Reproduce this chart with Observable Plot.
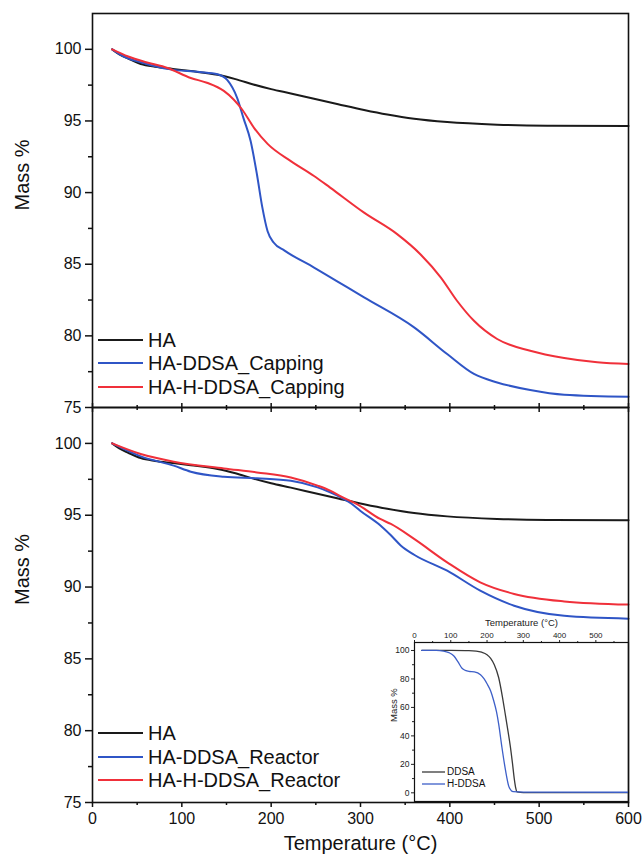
<!DOCTYPE html>
<html><head><meta charset="utf-8">
<script src="https://cdn.jsdelivr.net/npm/d3@7"></script>
<script src="https://cdn.jsdelivr.net/npm/@observablehq/plot@0.6"></script>
<style>
body{margin:0;background:#fff;}
#wrap{position:relative;width:644px;height:860px;overflow:hidden;font-family:"Liberation Sans",Arial,sans-serif;color:#111;}
#wrap svg{position:absolute;}
.leg{position:absolute;white-space:nowrap;}
</style></head><body><div id="wrap"></div>
<script>
// ---------- data ----------
const haT = [22, 30, 40, 54, 70, 90, 110, 140, 160, 180, 200, 222, 248, 275, 304, 330, 360, 397, 453, 509, 600];
const haM = [100, 99.65, 99.35, 98.98, 98.78, 98.63, 98.48, 98.22, 97.92, 97.55, 97.22, 96.92, 96.55, 96.17, 95.77, 95.45, 95.15, 94.92, 94.74, 94.67, 94.65];

const capBlueT = [22, 35, 54, 87, 120, 140, 151, 162, 169, 177, 184, 190, 196, 203, 215, 248, 304, 360, 397, 427, 453, 490, 528, 600];
const capBlueM = [100, 99.5, 99.1, 98.6, 98.42, 98.26, 97.85, 96.6, 95.2, 93.6, 91.3, 89.0, 87.3, 86.5, 85.95, 84.77, 82.68, 80.59, 78.73, 77.34, 76.75, 76.22, 75.89, 75.75];

const capRedT = [22, 40, 60, 84, 110, 128, 147, 158, 167.5, 181, 196, 222, 248, 266, 304, 341, 367, 390, 408, 427, 453, 490, 528, 565, 600];
const capRedM = [100, 99.5, 99.1, 98.7, 98.0, 97.67, 97.1, 96.5, 95.8, 94.5, 93.4, 92.2, 91.16, 90.35, 88.6, 87.1, 85.7, 84.07, 82.45, 81.05, 79.78, 78.96, 78.45, 78.15, 78.03];

const reaBlueT = [22, 54, 91, 110, 147, 184, 222, 252, 266, 278, 290, 300, 322, 334, 345, 360, 397, 434, 472, 528, 600];
const reaBlueM = [100, 99.1, 98.45, 98.03, 97.68, 97.57, 97.4, 96.94, 96.6, 96.25, 95.8, 95.3, 94.3, 93.6, 92.9, 92.25, 91.14, 89.75, 88.7, 88.0, 87.8];

const reaRedT = [22, 54, 91, 147, 184, 222, 252, 266, 278, 296, 322, 334, 360, 397, 434, 472, 528, 600];
const reaRedM = [100, 99.26, 98.73, 98.26, 97.98, 97.63, 97.06, 96.71, 96.31, 95.78, 94.74, 94.39, 93.35, 91.72, 90.33, 89.52, 89.0, 88.78];

const ddsaT = [20, 100, 150, 170, 185, 200, 210, 220, 232, 242, 251, 258, 264, 270, 275, 279, 283, 300, 590];
const ddsaM = [100, 100, 99.9, 99.6, 98.8, 97, 94.5, 90, 81, 68, 54, 43, 33, 21, 10, 3.5, 0.6, 0.2, 0.1];

const hddsaT = [20, 60, 80, 95, 108, 120, 131, 140, 150, 165, 182, 192, 200, 210, 218, 226, 232, 241, 251, 260, 267, 272, 300, 590];
const hddsaM = [100, 100, 99.6, 98.5, 96.3, 92, 87.5, 86, 85.3, 85, 83, 80, 76.6, 71.5, 65, 57, 48.5, 32, 15.7, 4.5, 1.5, 0.8, 0.5, 0.4];

const topNames = ["HA", "HA-DDSA_Capping", "HA-H-DDSA_Capping"];
const botNames = ["HA", "HA-DDSA_Reactor", "HA-H-DDSA_Reactor"];
const insetNames = ["DDSA", "H-DDSA"];
const lineColors = ["#1a1a1a", "#2f55c6", "#f0303a"];
const insetColors = ["#3a3a3a", "#3d5fc8"];

const xMajor = [0, 100, 200, 300, 400, 500, 600];
const xMinor = [50, 150, 250, 350, 450, 550];
const yMajor = [75, 80, 85, 90, 95, 100];
const yMinor = [77.5, 82.5, 87.5, 92.5, 97.5];
const inXMajor = [0, 100, 200, 300, 400, 500];
const inXMinor = [50, 150, 250, 350, 450, 550];
const inYMajor = [0, 20, 40, 60, 80, 100];
const inYMinor = [10, 30, 50, 70, 90];

// ---------- helpers ----------
const rows = (T, M, name) => T.map((t, i) => ({T: t, M: M[i], name}));
const topData = [...rows(haT, haM, topNames[0]), ...rows(capBlueT, capBlueM, topNames[1]), ...rows(capRedT, capRedM, topNames[2])];
const botData = [...rows(haT, haM, botNames[0]), ...rows(reaBlueT, reaBlueM, botNames[1]), ...rows(reaRedT, reaRedM, botNames[2])];
const insetData = [...rows(ddsaT, ddsaM, insetNames[0]), ...rows(hddsaT, hddsaM, insetNames[1])];

const wrap = document.getElementById("wrap");
const FONT = "'Liberation Sans', Arial, sans-serif";
const blank = () => "";

function panel(data, names, opts) {
  const marks = [
    Plot.axisY(yMajor, {anchor: "left", tickSize: 7, tickPadding: 4, fontSize: 16, strokeWidth: 1.5, label: null}),
    Plot.axisY(yMinor, {anchor: "left", tickSize: 4, tickFormat: blank, strokeWidth: 1.5, label: null}),
    Plot.line(data, {x: "T", y: "M", z: "name", stroke: "name", strokeWidth: 2, curve: "monotone-x"}),
    Plot.frame({stroke: "#111", strokeWidth: 1.6}),
    Plot.text(["Mass %"], {text: d => d, frameAnchor: "left", dx: -70, rotate: -90, fontSize: 20})
  ];
  if (opts.bottomLabels) {
    marks.push(
      Plot.axisX(xMajor, {anchor: "bottom", tickSize: 5, tickPadding: 5, fontSize: 16, strokeWidth: 1.5, label: null}),
      Plot.axisX(xMinor, {anchor: "bottom", tickSize: 3, tickFormat: blank, strokeWidth: 1.5, label: null}),
      Plot.axisX(xMajor, {anchor: "top", tickSize: 5, tickFormat: blank, strokeWidth: 1.5, label: null}),
      Plot.axisX(xMinor, {anchor: "top", tickSize: 3, tickFormat: blank, strokeWidth: 1.5, label: null}),
      Plot.text(["Temperature (°C)"], {text: d => d, frameAnchor: "bottom", dy: 47, fontSize: 20})
    );
  } else {
    marks.push(
      Plot.axisX(xMajor, {anchor: "bottom", tickSize: 5, tickFormat: blank, strokeWidth: 1.5, label: null}),
      Plot.axisX(xMinor, {anchor: "bottom", tickSize: 3, tickFormat: blank, strokeWidth: 1.5, label: null})
    );
  }
  const svg = Plot.plot({
    width: 644, height: opts.height,
    marginLeft: 92, marginRight: 16, marginTop: opts.marginTop, marginBottom: opts.marginBottom,
    x: {domain: [0, 600]},
    y: {domain: [75, 102.5]},
    color: {domain: names, range: lineColors},
    style: {background: "transparent", fontFamily: FONT, fontSize: "16px", color: "#111", overflow: "visible"},
    marks
  });
  svg.style.left = "0px";
  svg.style.top = opts.top + "px";
  return svg;
}

wrap.appendChild(panel(topData, topNames, {top: 0, height: 420, marginTop: 13, marginBottom: 13, bottomLabels: false}));
wrap.appendChild(panel(botData, botNames, {top: 395, height: 465, marginTop: 12, marginBottom: 58, bottomLabels: true}));

// inset
const inset = Plot.plot({
  width: 264, height: 200,
  marginLeft: 44, marginRight: 6, marginTop: 37, marginBottom: 4,
  x: {domain: [0, 590]},
  y: {domain: [-6.1, 105.6]},
  color: {domain: insetNames, range: insetColors},
  style: {background: "transparent", fontFamily: FONT, fontSize: "8px", color: "#222", overflow: "visible"},
  marks: [
    Plot.axisX(inXMajor, {anchor: "top", tickSize: 3, tickPadding: 1.5, fontSize: 8, label: null}),
    Plot.axisX(inXMinor, {anchor: "top", tickSize: 2, tickFormat: blank, label: null}),
    Plot.axisY(inYMajor, {anchor: "left", tickSize: 3, tickPadding: 2, fontSize: 8.5, label: null}),
    Plot.axisY(inYMinor, {anchor: "left", tickSize: 2, tickFormat: blank, label: null}),
    Plot.line(insetData, {x: "T", y: "M", z: "name", stroke: "name", strokeWidth: 1.3, curve: "monotone-x"}),
    Plot.frame({stroke: "#111", strokeWidth: 1.2}),
    Plot.text(["Temperature (°C)"], {text: d => d, frameAnchor: "top", dy: -23, fontSize: 9.5}),
    Plot.text(["Mass %"], {text: d => d, frameAnchor: "left", dx: -21, rotate: -90, fontSize: 9.5})
  ]
});
inset.style.left = "370px";
inset.style.top = "605px";
wrap.appendChild(inset);

// legends
function legend(names, colors, x0, yCenters, lineLen, gap, fontSize, lw) {
  names.forEach((n, i) => {
    const d = document.createElement("div");
    d.className = "leg";
    d.style.left = x0 + "px";
    d.style.top = (yCenters[i] - fontSize * 0.6) + "px";
    d.style.fontSize = fontSize + "px";
    d.style.lineHeight = (fontSize * 1.2) + "px";
    d.innerHTML = `<svg width="${lineLen}" height="${fontSize * 1.2}" style="position:relative;vertical-align:top"><line x1="0" x2="${lineLen}" y1="${fontSize * 0.6}" y2="${fontSize * 0.6}" stroke="${colors[i]}" stroke-width="${lw}"/></svg><span style="margin-left:${gap}px">${n}</span>`;
    wrap.appendChild(d);
  });
}
legend(topNames, lineColors, 98, [340, 363, 387], 45, 5, 20, 2.2);
legend(botNames, lineColors, 98, [733, 757, 780], 45, 5, 20, 2.2);
legend(insetNames, insetColors, 422, [772, 784], 23, 2, 10, 1.3);
</script></body></html>
